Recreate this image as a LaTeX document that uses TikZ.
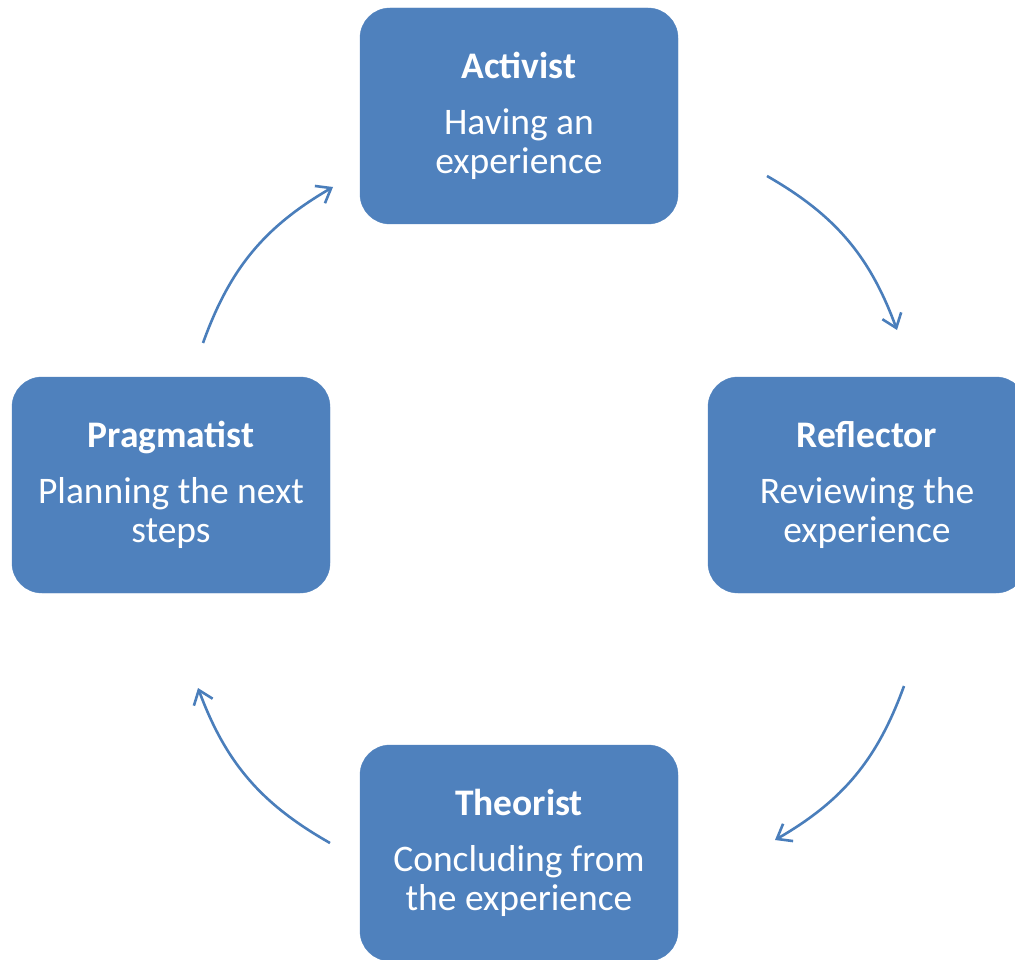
\documentclass[tikz,border=0pt]{standalone}
\usepackage{fontspec}
\setmainfont{Carlito}
\usetikzlibrary{arrows.meta}
\definecolor{boxblue}{HTML}{4F81BD}
\definecolor{arrowblue}{HTML}{4A7EBB}
\tikzset{
  stagebox/.style={rectangle, rounded corners=30pt, fill=boxblue, draw=boxblue,
    minimum width=318pt, minimum height=216pt, text=white, align=center,
    font=\fontsize{37.5}{39}\selectfont, inner sep=0pt},
  cyclearrow/.style={draw=arrowblue, line width=2.6pt, bend left=20,
    -{Straight Barb[length=13pt,width=20pt,line width=2.6pt]}}
}
\begin{document}
\begin{tikzpicture}[x=1pt,y=-1pt]
\useasboundingbox (0,0) rectangle (1015,960);
\node[stagebox] (act) at (519,116) {\textbf{Activist}\\[17pt]Having an\\experience};
\node[stagebox] (ref) at (867,485) {\textbf{Reflector}\\[17pt]Reviewing the\\experience};
\node[stagebox] (the) at (519,853) {\textbf{Theorist}\\[17pt]Concluding from\\the experience};
\node[stagebox] (pra) at (171,485) {\textbf{Pragmatist}\\[17pt]Planning the next\\steps};
\coordinate (a1s) at (767,176);
\coordinate (a1e) at (897,330);
\coordinate (a2s) at (904,686);
\coordinate (a2e) at (775,840);
\coordinate (a3s) at (330,843);
\coordinate (a3e) at (198,688);
\coordinate (a4s) at (203,343);
\coordinate (a4e) at (333,187);
\draw[cyclearrow] (a1s) to (a1e);
\draw[cyclearrow] (a2s) to (a2e);
\draw[cyclearrow] (a3s) to (a3e);
\draw[cyclearrow] (a4s) to (a4e);
\end{tikzpicture}
\end{document}
